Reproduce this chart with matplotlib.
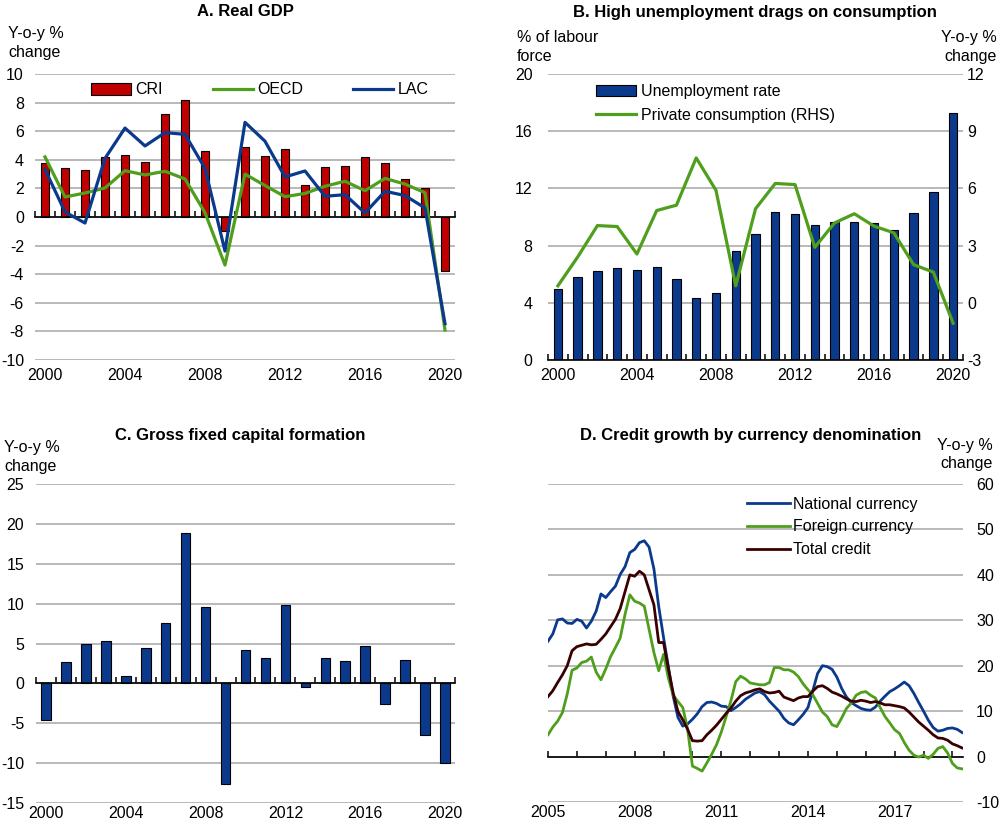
import numpy as np
import matplotlib
matplotlib.use('Agg')
import matplotlib.pyplot as plt
from matplotlib import font_manager
from matplotlib.patches import Patch
from matplotlib.lines import Line2D

# ---------------- fonts ----------------
names = {f.name for f in font_manager.fontManager.ttflist}
NARROW = 'Liberation Sans Narrow' in names
BASE = ['Liberation Sans Narrow' if NARROW else 'Liberation Sans', 'DejaVu Sans']
FS = 13 if NARROW else 11.5
plt.rcParams['font.family'] = BASE
plt.rcParams['font.size'] = FS
plt.rcParams['axes.unicode_minus'] = False
TITLE_FAMILY = ['Liberation Sans', 'DejaVu Sans']

# ---------------- data ----------------
years = list(range(2000, 2021))
year_labels = ['2000', '2004', '2008', '2012', '2016', '2020']

# A. Real GDP (y-o-y % change)
cri_gdp = [3.8, 3.45, 3.26, 4.22, 4.31, 3.82, 7.2, 8.16, 4.62, -1.0, 4.92,
           4.29, 4.76, 2.26, 3.5, 3.6, 4.2, 3.8, 2.63, 2.05, -3.75]
oecd_gdp = [4.2, 1.4, 1.68, 2.03, 3.24, 2.94, 3.2, 2.66, 0.3, -3.36, 3.0,
            2.2, 1.42, 1.65, 2.15, 2.5, 1.84, 2.7, 2.3, 1.7, -7.9]
lac_gdp = [3.33, 0.35, -0.42, 4.1, 6.22, 4.97, 5.9, 5.78, 3.4, -2.38, 6.62,
           5.3, 2.8, 3.22, 1.45, 1.56, 0.28, 1.8, 1.5, 0.63, -7.46]

# B. Unemployment (% of labour force) and private consumption (RHS)
unemp = [4.98, 5.8, 6.25, 6.46, 6.29, 6.48, 5.64, 4.37, 4.68, 7.6, 8.82,
         10.34, 10.22, 9.43, 9.64, 9.64, 9.57, 9.1, 10.29, 11.77, 17.24]
priv_cons = [0.89, 2.4, 4.05, 4.0, 2.56, 4.84, 5.12, 7.6, 5.9, 0.89, 4.93,
             6.26, 6.2, 2.91, 4.19, 4.67, 4.02, 3.67, 2.0, 1.61, -1.07]

# C. Gross fixed capital formation
gfcf = [-4.6, 2.72, 4.93, 5.35, 0.92, 4.47, 7.6, 18.9, 9.62, -12.6, 4.18,
        3.14, 9.82, -0.42, 3.18, 2.84, 4.72, -2.6, 2.93, -6.44, -10.0]

# D. Credit growth by currency (every second month, Jan 2005 - May 2019)
credit_month = np.arange(0, 173, 2)
credit_year_labels = ['2005', '2008', '2011', '2014', '2017']
national = [25.4, 27.0, 30.1, 30.3, 29.4, 29.3, 30.2, 29.8, 28.3, 29.8,
            32.0, 35.8, 35.0, 36.3, 37.5, 40.1, 41.8, 44.9, 45.6, 47.1,
            47.5, 46.1, 41.3, 33.0, 26.2, 19.8, 13.3, 8.6, 6.7, 7.2, 8.2,
            9.4, 11.0, 11.9, 12.0, 11.7, 11.1, 11.0, 10.1, 10.8, 11.6,
            12.6, 13.3, 14.0, 14.3, 13.6, 12.2, 11.1, 10.0, 8.4, 7.4,
            7.0, 8.1, 9.3, 10.8, 14.5, 18.3, 20.0, 19.8,
            19.2, 17.5, 15.0, 13.1, 11.9, 11.2, 10.6, 10.3, 10.2, 10.9,
            12.2, 13.3, 14.3, 14.9, 15.6, 16.4, 15.6, 13.9, 11.9, 10.0,
            8.0, 6.4, 5.6, 5.8, 6.2, 6.3, 6.0, 5.3]
foreign = [4.8, 6.5, 7.8, 9.7, 13.8, 19.0, 19.5, 20.7, 21.0, 21.9,
           18.6, 16.9, 19.3, 22.0, 24.0, 26.1, 31.3, 35.6, 34.2, 33.8,
           33.1, 28.0, 22.9, 18.9, 22.5, 17.3, 13.5, 12.1, 10.8, 6.0, -2.1,
           -2.6, -3.2, -1.4, 0.5, 2.6, 5.4, 8.8, 12.3, 16.5, 17.7,
           17.1, 16.2, 16.0, 15.8, 15.8, 16.3, 19.6, 19.6, 19.1, 19.1,
           18.6, 17.6, 16.0, 14.7, 13.6, 11.7, 9.8, 8.8,
           7.0, 6.6, 8.5, 10.6, 11.8, 13.5, 14.1, 14.3, 13.5, 12.9,
           10.8, 8.8, 7.4, 5.9, 5.1, 3.1, 1.4, 0.3, -0.1, 0.3,
           -0.4, 0.5, 1.8, 2.2, 0.8, -1.5, -2.5, -2.7]
total = [13.2, 14.5, 16.3, 18.0, 20.0, 23.3, 24.2, 24.5, 24.8, 24.6,
         24.7, 25.8, 27.0, 28.6, 30.2, 32.6, 36.3, 40.0, 39.7, 40.8,
         40.0, 36.7, 33.4, 25.1, 25.1, 19.3, 14.0, 9.9, 8.1, 6.0, 3.5,
         3.4, 3.5, 4.8, 5.8, 6.9, 8.2, 9.5, 10.7, 12.2, 13.4,
         14.0, 14.3, 14.7, 14.9, 14.3, 14.0, 14.1, 14.4, 13.1, 12.7,
         12.3, 12.9, 13.2, 13.2, 14.4, 15.4, 15.6, 15.0,
         14.2, 13.8, 13.3, 12.7, 12.2, 12.1, 12.4, 12.2, 11.9, 12.1,
         11.8, 11.4, 11.4, 11.2, 11.0, 10.7, 9.8, 8.7, 7.6, 6.7,
         5.8, 4.8, 4.1, 4.0, 3.6, 2.8, 2.4, 1.9]

# ---------------- style ----------------
RED = '#C00000'
GREEN = '#4F9E1C'
BLUE = '#0B3A8C'
BROWN = '#3A0000'
GRID = '#A6A6A6'
W, H = 1000, 824
LS = 1.3


def fig_rect(left, top, right, bottom):
    return [left / W, 1 - bottom / H, (right - left) / W, (bottom - top) / H]


fig = plt.figure(figsize=(W / 100, H / 100), dpi=100)


def style_axes(ax, ylim, yticks, ypad):
    ax.set_ylim(ylim)
    ax.set_yticks(yticks)
    ax.yaxis.grid(True, color=GRID, lw=1.1)
    ax.xaxis.grid(False)
    ax.set_axisbelow(True)
    for s in ['top', 'right', 'left']:
        ax.spines[s].set_visible(False)
    ax.spines['bottom'].set_position(('data', 0))
    ax.spines['bottom'].set_linewidth(1.2)
    ax.tick_params(axis='y', length=0, pad=ypad)


def cat_xaxis(ax, xpad=6):
    n = len(years)
    ax.set_xlim(-0.5, n - 0.5)
    ax.set_xticks(np.arange(-0.5, n, 1))
    ax.tick_params(axis='x', direction='in', length=4.5, width=1.1,
                   labelbottom=False)
    sec = ax.secondary_xaxis('bottom')
    sec.set_xticks([years.index(int(y)) for y in year_labels], labels=year_labels)
    sec.tick_params(length=0, pad=xpad)
    sec.spines['bottom'].set_visible(False)


x = np.arange(len(years))

# ---------------- Panel A ----------------
axA = fig.add_axes(fig_rect(35, 74, 455, 360))
style_axes(axA, (-10, 10), np.arange(-10, 11, 2), 8)
cat_xaxis(axA)
axA.bar(x, cri_gdp, width=0.4, color=RED, edgecolor='black', linewidth=0.8, zorder=2)
axA.plot(x, oecd_gdp, color=GREEN, lw=2.3, zorder=3)
axA.plot(x, lac_gdp, color=BLUE, lw=2.3, zorder=4)
handles = [Patch(facecolor=RED, edgecolor='black', linewidth=0.8),
           Line2D([], [], color=GREEN, lw=2.3), Line2D([], [], color=BLUE, lw=2.3)]
fig.legend(handles, ['CRI', 'OECD', 'LAC'], loc='center left',
           bbox_to_anchor=(91 / W, 1 - 90 / H), ncol=3, frameon=False,
           handlelength=2.5, handletextpad=0.3, columnspacing=3.1,
           borderpad=0, borderaxespad=0)
fig.text(245 / W, 1 - 12 / H, 'A. Real GDP', ha='center', va='center',
         fontweight='bold', fontsize=12, family=TITLE_FAMILY)
fig.text(8 / W, 1 - 43 / H, 'Y-o-y %\nchange', ha='left', va='center',
         linespacing=LS)

# ---------------- Panel B ----------------
axB = fig.add_axes(fig_rect(548, 74, 963, 360))
style_axes(axB, (0, 20), np.arange(0, 21, 4), 11)
cat_xaxis(axB)
axB.bar(x, unemp, width=0.42, color=BLUE, edgecolor='black', linewidth=0.8, zorder=2)
axB2 = axB.twinx()
axB2.set_ylim(-3, 12)
axB2.set_yticks(np.arange(-3, 13, 3))
for s in ['top', 'right', 'left', 'bottom']:
    axB2.spines[s].set_visible(False)
axB2.tick_params(axis='y', length=0, pad=3)
axB2.plot(x, priv_cons, color=GREEN, lw=2.3)
handles = [Patch(facecolor=BLUE, edgecolor='black', linewidth=0.8),
           Line2D([], [], color=GREEN, lw=2.3)]
fig.legend(handles, ['Unemployment rate', 'Private consumption (RHS)'],
           loc='center left', bbox_to_anchor=(596 / W, 1 - 103.5 / H), ncol=1,
           frameon=False, handlelength=2.5, handletextpad=0.3,
           labelspacing=0.55, borderpad=0, borderaxespad=0)
fig.text(755 / W, 1 - 12 / H, 'B. High unemployment drags on consumption',
         ha='center', va='center', fontweight='bold', fontsize=12,
         family=TITLE_FAMILY)
fig.text(517 / W, 1 - 47 / H, '% of labour\nforce', ha='left', va='center',
         linespacing=LS)
fig.text(997 / W, 1 - 47 / H, 'Y-o-y %\nchange', ha='right', va='center',
         linespacing=LS)

# ---------------- Panel C ----------------
axC = fig.add_axes(fig_rect(36, 484, 455, 803))
style_axes(axC, (-15, 25), np.arange(-15, 26, 5), 8.5)
cat_xaxis(axC, xpad=2.5)
axC.bar(x, gfcf, width=0.48, color=BLUE, edgecolor='black', linewidth=0.8, zorder=2)
fig.text(240 / W, 1 - 435 / H, 'C. Gross fixed capital formation',
         ha='center', va='center', fontweight='bold', fontsize=12,
         family=TITLE_FAMILY)
fig.text(4 / W, 1 - 457 / H, 'Y-o-y %\nchange', ha='left', va='center',
         linespacing=LS)

# ---------------- Panel D ----------------
axD = fig.add_axes(fig_rect(548, 484, 963, 802))
style_axes(axD, (-10, 60), np.arange(-10, 61, 10), 9.5)
axD.yaxis.tick_right()
axD.tick_params(axis='y', length=0, pad=9.5)
cx = 2005 + credit_month / 12.0
axD.set_xlim(2005, 2005 + 172.4 / 12.0)
axD.set_xticks(np.arange(2005, 2020, 1))
axD.tick_params(axis='x', direction='in', length=4.5, width=1.1, labelbottom=False)
secD = axD.secondary_xaxis('bottom')
secD.set_xticks([int(v) for v in credit_year_labels], labels=credit_year_labels)
secD.tick_params(length=0, pad=2.5)
secD.spines['bottom'].set_visible(False)
lN, = axD.plot(cx, national, color=BLUE, lw=2.0, zorder=3)
lF, = axD.plot(cx, foreign, color=GREEN, lw=2.0, zorder=3)
lT, = axD.plot(cx, total, color=BROWN, lw=2.0, zorder=4)
fig.legend([lN, lF, lT], ['National currency', 'Foreign currency', 'Total credit'],
           loc='center left', bbox_to_anchor=(747 / W, 1 - 527 / H), ncol=1,
           frameon=False, handlelength=2.7, handletextpad=0.15,
           labelspacing=0.5, borderpad=0, borderaxespad=0)
fig.text(751 / W, 1 - 435 / H, 'D. Credit growth by currency denomination',
         ha='center', va='center', fontweight='bold', fontsize=12,
         family=TITLE_FAMILY)
fig.text(993 / W, 1 - 454.5 / H, 'Y-o-y %\nchange', ha='right', va='center',
         linespacing=LS)

fig.savefig('out.png', dpi=100)
